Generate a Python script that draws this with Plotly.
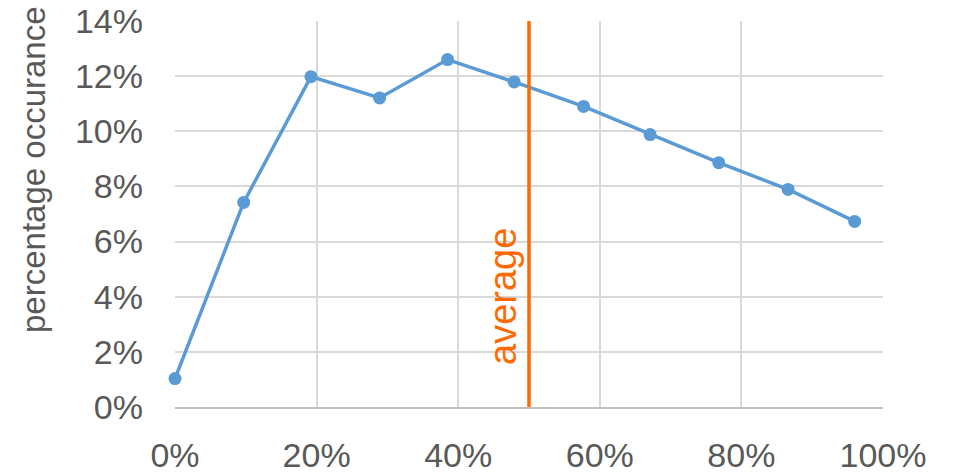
import plotly.graph_objects as go

# Data
x_share = [0.0, 0.097, 0.192, 0.289, 0.385, 0.479, 0.577, 0.671, 0.768, 0.866, 0.960]
occurrence = [0.0103, 0.0742, 0.1198, 0.1121, 0.1260, 0.1179, 0.1090, 0.0988, 0.0886, 0.0789, 0.0673]
average_x = [0.5, 0.5]
average_y = [0.0, 0.14]
average_label = "average"
y_title = "percentage occurance"

FONT = "Liberation Sans, Arial, sans-serif"
GREY = "#595959"
BLUE = "#5b9bd5"
ORANGE = "#ff6a00"

fig = go.Figure()
fig.add_trace(go.Scatter(
    x=x_share, y=occurrence, mode="lines+markers",
    line=dict(color=BLUE, width=3.5),
    marker=dict(color=BLUE, size=13),
    showlegend=False, cliponaxis=False,
))
fig.add_trace(go.Scatter(
    x=average_x, y=average_y, mode="lines",
    line=dict(color=ORANGE, width=3.5),
    showlegend=False, cliponaxis=False,
))

fig.add_annotation(
    x=0.5, xref="x", y=0.285, yref="paper",
    text=average_label, textangle=-90, showarrow=False,
    xanchor="center", yanchor="middle", xshift=-26,
    font=dict(family=FONT, size=38, color=ORANGE),
)
fig.add_annotation(
    x=-0.2, xref="paper", y=0.615, yref="paper",
    text=y_title, textangle=-90, showarrow=False,
    xanchor="center", yanchor="middle",
    font=dict(family=FONT, size=33, color=GREY),
)

fig.update_layout(
    width=955, height=473,
    margin=dict(l=175, r=72, t=21, b=66, pad=0, autoexpand=False),
    paper_bgcolor="white", plot_bgcolor="white",
    font=dict(family=FONT, size=34, color=GREY),
)
fig.update_xaxes(
    range=[0, 1], dtick=0.2, tick0=0, tickformat=".0%",
    showgrid=True, gridcolor="#d9d9d9", gridwidth=1.5,
    showline=True, linecolor="#bfbfbf", linewidth=1.5,
    zeroline=False, ticks="", ticklabelstandoff=17, automargin=False,
    ticklabeloverflow="allow",
    tickfont=dict(family=FONT, size=34, color=GREY),
)
fig.update_yaxes(
    range=[0, 0.14], dtick=0.02, tick0=0, tickformat=".0%",
    showgrid=True, gridcolor="#d9d9d9", gridwidth=1.5,
    showline=False, zeroline=False, ticks="", ticklabelstandoff=31, automargin=False,
    ticklabeloverflow="allow",
    tickfont=dict(family=FONT, size=34, color=GREY),
)

# remove the browser's default 8px page margin so the figure fills the window
fig.write_html(
    "out.html",
    config={"displayModeBar": False},
    post_script="document.body.style.margin='0';",
)
